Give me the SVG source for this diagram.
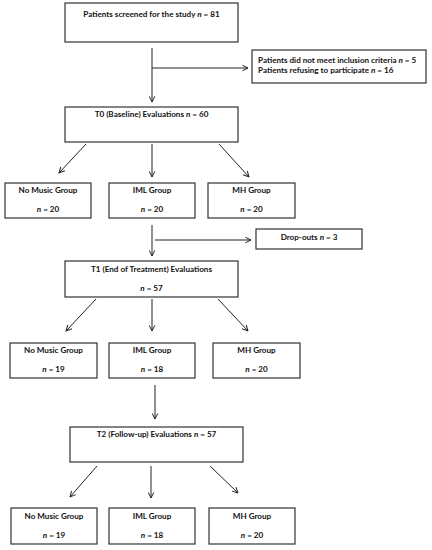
<svg xmlns="http://www.w3.org/2000/svg" width="432" height="550" viewBox="0 0 432 550">
<defs>
<marker id="ah" viewBox="0 0 10 10" refX="9" refY="5" markerWidth="7" markerHeight="7" markerUnits="userSpaceOnUse" orient="auto">
<path d="M1,1 L9,5 L1,9" fill="none" stroke="#222" stroke-width="1.4"/>
</marker>
<style>
.box{fill:#fff;stroke:#333;stroke-width:1.2}
.t{font-family:Lato,"Liberation Sans",sans-serif;font-weight:bold;font-size:8.1px;fill:#111}
.c{text-anchor:middle}
.n{font-style:italic}
.ln{fill:none;stroke:#222;stroke-width:1}
</style>
</defs>
<rect width="432" height="550" fill="#fff"/>
<g id="connectors">
<line class="ln" x1="152" y1="48" x2="152" y2="102" marker-end="url(#ah)"/>
<line class="ln" x1="152" y1="68" x2="248" y2="68" marker-end="url(#ah)"/>
<line class="ln" x1="86" y1="144" x2="59" y2="173" marker-end="url(#ah)"/>
<line class="ln" x1="152" y1="144" x2="152" y2="177" marker-end="url(#ah)"/>
<line class="ln" x1="219" y1="144" x2="249" y2="177" marker-end="url(#ah)"/>
<line class="ln" x1="152" y1="225" x2="152" y2="256" marker-end="url(#ah)"/>
<line class="ln" x1="155" y1="240" x2="251" y2="240" marker-end="url(#ah)"/>
<line class="ln" x1="96" y1="299" x2="66" y2="331" marker-end="url(#ah)"/>
<line class="ln" x1="152" y1="299" x2="152" y2="331" marker-end="url(#ah)"/>
<line class="ln" x1="218" y1="299" x2="248" y2="331" marker-end="url(#ah)"/>
<line class="ln" x1="155" y1="385" x2="155" y2="419" marker-end="url(#ah)"/>
<line class="ln" x1="97" y1="466" x2="70" y2="497" marker-end="url(#ah)"/>
<line class="ln" x1="151" y1="466" x2="151" y2="498" marker-end="url(#ah)"/>
<line class="ln" x1="210" y1="466" x2="238" y2="493" marker-end="url(#ah)"/>
</g>
<g id="screened">
<rect class="box" x="65" y="3" width="173" height="39"/>
<text class="t c" x="151.5" y="17">Patients screened for the study <tspan class="n">n</tspan> = 81</text>
</g>
<g id="excluded">
<rect class="box" x="252" y="50" width="174" height="33"/>
<text class="t" x="258" y="63">Patients did not meet inclusion criteria <tspan class="n">n</tspan> = 5</text>
<text class="t" x="258" y="73">Patients refusing to participate <tspan class="n">n</tspan> = 16</text>
</g>
<g id="t0">
<rect class="box" x="65" y="107" width="173" height="35"/>
<text class="t c" x="151.5" y="117">T0 (Baseline) Evaluations <tspan class="n">n</tspan> = 60</text>
</g>
<g id="t0-nomusic">
<rect class="box" x="5" y="183" width="86" height="35"/>
<text class="t c" x="48" y="193">No Music Group</text>
<text class="t c" x="48" y="212"><tspan class="n">n</tspan> = 20</text>
</g>
<g id="t0-iml">
<rect class="box" x="109" y="183" width="86" height="35"/>
<text class="t c" x="152" y="193">IML Group</text>
<text class="t c" x="152" y="212"><tspan class="n">n</tspan> = 20</text>
</g>
<g id="t0-mh">
<rect class="box" x="208" y="183" width="87" height="35"/>
<text class="t c" x="251.5" y="193">MH Group</text>
<text class="t c" x="251.5" y="212"><tspan class="n">n</tspan> = 20</text>
</g>
<g id="dropouts">
<rect class="box" x="256" y="229" width="106" height="20"/>
<text class="t c" x="309" y="240">Drop-outs <tspan class="n">n</tspan> = 3</text>
</g>
<g id="t1">
<rect class="box" x="65" y="261" width="173" height="36"/>
<text class="t c" x="151.5" y="272">T1 (End of Treatment) Evaluations</text>
<text class="t c" x="151.5" y="291"><tspan class="n">n</tspan> = 57</text>
</g>
<g id="t1-nomusic">
<rect class="box" x="10" y="343" width="87" height="35"/>
<text class="t c" x="53.5" y="353">No Music Group</text>
<text class="t c" x="53.5" y="372"><tspan class="n">n</tspan> = 19</text>
</g>
<g id="t1-iml">
<rect class="box" x="109" y="343" width="86" height="35"/>
<text class="t c" x="152" y="353">IML Group</text>
<text class="t c" x="152" y="372"><tspan class="n">n</tspan> = 18</text>
</g>
<g id="t1-mh">
<rect class="box" x="213" y="343" width="87" height="35"/>
<text class="t c" x="256.5" y="353">MH Group</text>
<text class="t c" x="256.5" y="372"><tspan class="n">n</tspan> = 20</text>
</g>
<g id="t2">
<rect class="box" x="70" y="427" width="173" height="35"/>
<text class="t c" x="156.5" y="437">T2 (Follow-up) Evaluations <tspan class="n">n</tspan> = 57</text>
</g>
<g id="t2-nomusic">
<rect class="box" x="11" y="508" width="86" height="36"/>
<text class="t c" x="54" y="519">No Music Group</text>
<text class="t c" x="54" y="538"><tspan class="n">n</tspan> = 19</text>
</g>
<g id="t2-iml">
<rect class="box" x="109" y="508" width="86" height="36"/>
<text class="t c" x="152" y="519">IML Group</text>
<text class="t c" x="152" y="538"><tspan class="n">n</tspan> = 18</text>
</g>
<g id="t2-mh">
<rect class="box" x="209" y="508" width="86" height="36"/>
<text class="t c" x="252" y="519">MH Group</text>
<text class="t c" x="252" y="538"><tspan class="n">n</tspan> = 20</text>
</g>
</svg>
